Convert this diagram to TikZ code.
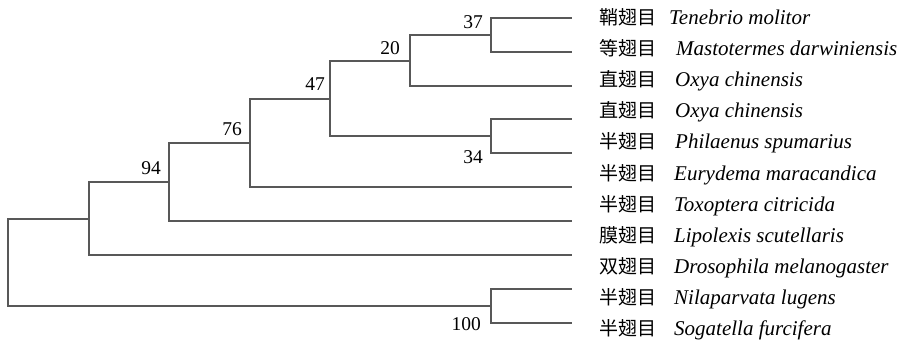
\documentclass[tikz,border=0pt]{standalone}
\usepackage{fontspec}
\setmainfont{Liberation Serif}
\newfontfamily\cjk{Noto Sans CJK SC}
\usetikzlibrary{calc}
\definecolor{branch}{RGB}{88,88,88}
\begin{document}
\begin{tikzpicture}[x=1pt,y=-1pt,
  br/.style={draw=branch,line width=2pt,line join=miter,line cap=butt},
  bs/.style={inner sep=0pt,anchor=base east,font=\fontsize{19.5}{20}\selectfont},
  cn/.style={inner sep=0pt,anchor=base west,font=\cjk\fontsize{19}{20}\selectfont},
  la/.style={inner sep=0pt,anchor=base west,font=\fontsize{21}{22}\selectfont\itshape}]
\useasboundingbox (0,0) rectangle (901,345);
% leaves
\coordinate (L1) at (572,18);
\coordinate (L2) at (572,52);
\coordinate (L3) at (572,86);
\coordinate (L4) at (572,119);
\coordinate (L5) at (572,153);
\coordinate (L6) at (572,187);
\coordinate (L7) at (572,221);
\coordinate (L8) at (572,255);
\coordinate (L9) at (572,289);
\coordinate (L10) at (572,323);
% internal nodes
\coordinate (n37) at (491,35);
\coordinate (n20) at (410,61);
\coordinate (n34) at (491,136);
\coordinate (n47) at (330,99);
\coordinate (n76) at (250,143);
\coordinate (n94) at (169,182);
\coordinate (nA) at (89,219);
\coordinate (n100) at (491,306);
\coordinate (root) at (8,262);
% branches
\draw[br] (n37) |- (L1);
\draw[br] (n37) |- (L2);
\draw[br] (n20) |- (n37);
\draw[br] (n20) |- (L3);
\draw[br] (n34) |- (L4);
\draw[br] (n34) |- (L5);
\draw[br] (n47) |- (n20);
\draw[br] (n47) |- (n34);
\draw[br] (n76) |- (n47);
\draw[br] (n76) |- (L6);
\draw[br] (n94) |- (n76);
\draw[br] (n94) |- (L7);
\draw[br] (nA) |- (n94);
\draw[br] (nA) |- (L8);
\draw[br] (n100) |- (L9);
\draw[br] (n100) |- (L10);
\draw[br] (root) |- (nA);
\draw[br] (root) |- (n100);
% support values
\node[bs] (b37) at ($(n37)+(-8,-6)$) {37};
\node[bs] (b20) at ($(n20)+(-10,-6)$) {20};
\node[bs] (b47) at ($(n47)+(-5,-8.5)$) {47};
\node[bs] (b76) at ($(n76)+(-8,-8)$) {76};
\node[bs] (b94) at ($(n94)+(-8,-7.5)$) {94};
\node[bs] (b34) at (483,163) {34};
\node[bs] (b100) at (481,330) {100};
% taxa labels
\node[cn] (c1) at (599,24.5) {鞘翅目};
\node[la] (t1) at (669,24.5) {Tenebrio molitor};
\node[cn] (c2) at (599,55.6) {等翅目};
\node[la] (t2) at (676,55.6) {Mastotermes darwiniensis};
\node[cn] (c3) at (599,86.7) {直翅目};
\node[la] (t3) at (675,86.7) {Oxya chinensis};
\node[cn] (c4) at (599,117.8) {直翅目};
\node[la] (t4) at (675,117.8) {Oxya chinensis};
\node[cn] (c5) at (599,148.9) {半翅目};
\node[la] (t5) at (675,148.9) {Philaenus spumarius};
\node[cn] (c6) at (599,180) {半翅目};
\node[la] (t6) at (674,180) {Eurydema maracandica};
\node[cn] (c7) at (599,211.1) {半翅目};
\node[la] (t7) at (674,211.1) {Toxoptera citricida};
\node[cn] (c8) at (599,242.2) {膜翅目};
\node[la] (t8) at (674,242.2) {Lipolexis scutellaris};
\node[cn] (c9) at (599,273.3) {双翅目};
\node[la] (t9) at (674,273.3) {Drosophila melanogaster};
\node[cn] (c10) at (599,304.4) {半翅目};
\node[la] (t10) at (674,304.4) {Nilaparvata lugens};
\node[cn] (c11) at (599,335.5) {半翅目};
\node[la] (t11) at (674,335.5) {Sogatella furcifera};
\end{tikzpicture}
\end{document}
